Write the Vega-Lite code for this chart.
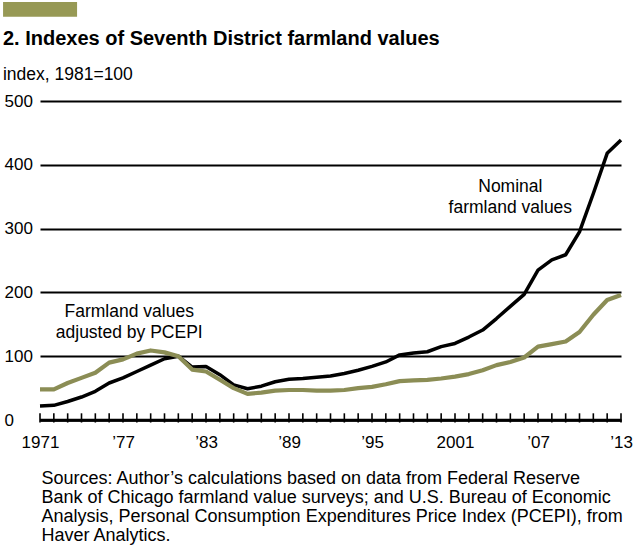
{
  "$schema": "https://vega.github.io/schema/vega-lite/v6.json",
  "width": 581,
  "height": 319,
  "autosize": {"type": "none"},
  "padding": {"left": 40, "top": 101, "right": 14, "bottom": 130},
  "background": "white",
  "config": {"view": {"stroke": null, "fill": null}, "axisX": {"labelOverlap": false}},
  "data": {
    "values": [
      {"year": 1971, "series": "nominal", "value": 22},
      {"year": 1972, "series": "nominal", "value": 23},
      {"year": 1973, "series": "nominal", "value": 29},
      {"year": 1974, "series": "nominal", "value": 36},
      {"year": 1975, "series": "nominal", "value": 45},
      {"year": 1976, "series": "nominal", "value": 58},
      {"year": 1977, "series": "nominal", "value": 66},
      {"year": 1978, "series": "nominal", "value": 76},
      {"year": 1979, "series": "nominal", "value": 86},
      {"year": 1980, "series": "nominal", "value": 96},
      {"year": 1981, "series": "nominal", "value": 100},
      {"year": 1982, "series": "nominal", "value": 83},
      {"year": 1983, "series": "nominal", "value": 84},
      {"year": 1984, "series": "nominal", "value": 71},
      {"year": 1985, "series": "nominal", "value": 55},
      {"year": 1986, "series": "nominal", "value": 49},
      {"year": 1987, "series": "nominal", "value": 53},
      {"year": 1988, "series": "nominal", "value": 60},
      {"year": 1989, "series": "nominal", "value": 64},
      {"year": 1990, "series": "nominal", "value": 65},
      {"year": 1991, "series": "nominal", "value": 67},
      {"year": 1992, "series": "nominal", "value": 69},
      {"year": 1993, "series": "nominal", "value": 73},
      {"year": 1994, "series": "nominal", "value": 78},
      {"year": 1995, "series": "nominal", "value": 84},
      {"year": 1996, "series": "nominal", "value": 91},
      {"year": 1997, "series": "nominal", "value": 102},
      {"year": 1998, "series": "nominal", "value": 105},
      {"year": 1999, "series": "nominal", "value": 107},
      {"year": 2000, "series": "nominal", "value": 115},
      {"year": 2001, "series": "nominal", "value": 120},
      {"year": 2002, "series": "nominal", "value": 130},
      {"year": 2003, "series": "nominal", "value": 141},
      {"year": 2004, "series": "nominal", "value": 159},
      {"year": 2005, "series": "nominal", "value": 178},
      {"year": 2006, "series": "nominal", "value": 197},
      {"year": 2007, "series": "nominal", "value": 235},
      {"year": 2008, "series": "nominal", "value": 251},
      {"year": 2009, "series": "nominal", "value": 259},
      {"year": 2010, "series": "nominal", "value": 295},
      {"year": 2011, "series": "nominal", "value": 355},
      {"year": 2012, "series": "nominal", "value": 418},
      {"year": 2013, "series": "nominal", "value": 439},
      {"year": 1971, "series": "adjusted", "value": 48},
      {"year": 1972, "series": "adjusted", "value": 48},
      {"year": 1973, "series": "adjusted", "value": 58},
      {"year": 1974, "series": "adjusted", "value": 66},
      {"year": 1975, "series": "adjusted", "value": 74},
      {"year": 1976, "series": "adjusted", "value": 90},
      {"year": 1977, "series": "adjusted", "value": 95},
      {"year": 1978, "series": "adjusted", "value": 104},
      {"year": 1979, "series": "adjusted", "value": 109},
      {"year": 1980, "series": "adjusted", "value": 106},
      {"year": 1981, "series": "adjusted", "value": 100},
      {"year": 1982, "series": "adjusted", "value": 79},
      {"year": 1983, "series": "adjusted", "value": 76},
      {"year": 1984, "series": "adjusted", "value": 63},
      {"year": 1985, "series": "adjusted", "value": 50},
      {"year": 1986, "series": "adjusted", "value": 41},
      {"year": 1987, "series": "adjusted", "value": 43},
      {"year": 1988, "series": "adjusted", "value": 46},
      {"year": 1989, "series": "adjusted", "value": 47},
      {"year": 1990, "series": "adjusted", "value": 47},
      {"year": 1991, "series": "adjusted", "value": 46},
      {"year": 1992, "series": "adjusted", "value": 46},
      {"year": 1993, "series": "adjusted", "value": 47},
      {"year": 1994, "series": "adjusted", "value": 50},
      {"year": 1995, "series": "adjusted", "value": 52},
      {"year": 1996, "series": "adjusted", "value": 56},
      {"year": 1997, "series": "adjusted", "value": 61},
      {"year": 1998, "series": "adjusted", "value": 62},
      {"year": 1999, "series": "adjusted", "value": 63},
      {"year": 2000, "series": "adjusted", "value": 65},
      {"year": 2001, "series": "adjusted", "value": 68},
      {"year": 2002, "series": "adjusted", "value": 72},
      {"year": 2003, "series": "adjusted", "value": 78},
      {"year": 2004, "series": "adjusted", "value": 86},
      {"year": 2005, "series": "adjusted", "value": 91},
      {"year": 2006, "series": "adjusted", "value": 98},
      {"year": 2007, "series": "adjusted", "value": 115},
      {"year": 2008, "series": "adjusted", "value": 119},
      {"year": 2009, "series": "adjusted", "value": 123},
      {"year": 2010, "series": "adjusted", "value": 138},
      {"year": 2011, "series": "adjusted", "value": 165},
      {"year": 2012, "series": "adjusted", "value": 188},
      {"year": 2013, "series": "adjusted", "value": 196}
    ]
  },
  "layer": [
    {
      "mark": {"type": "line", "strokeJoin": "round", "strokeCap": "butt", "clip": false},
      "encoding": {
        "x": {
          "field": "year",
          "type": "quantitative",
          "scale": {"domain": [1971, 2013], "nice": false, "zero": false},
          "axis": {
            "values": [1971,1972,1973,1974,1975,1976,1977,1978,1979,1980,1981,1982,1983,1984,1985,1986,1987,1988,1989,1990,1991,1992,1993,1994,1995,1996,1997,1998,1999,2000,2001,2002,2003,2004,2005,2006,2007,2008,2009,2010,2011,2012,2013],
            "tickCount": 100,
            "labelExpr": "datum.value == 1971 || datum.value == 2001 ? toString(datum.value) : (datum.value - 1971) % 6 == 0 ? '’' + substring(toString(datum.value), 2, 4) : ''",
            "grid": false,
            "domain": true,
            "domainColor": "black",
            "domainWidth": 2.5,
            "ticks": false,
            "tickSize": 0,
            "labelFont": "Liberation Sans",
            "labelFontSize": 17,
            "labelColor": "black",
            "labelPadding": 14,
            "labelFlush": false,
            "labelOverlap": false,
            "labelBound": false,
            "title": [
              "Sources: Author’s calculations based on data from Federal Reserve",
              "Bank of Chicago farmland value surveys; and U.S. Bureau of Economic",
              "Analysis, Personal Consumption Expenditures Price Index (PCEPI), from",
              "Haver Analytics."
            ],
            "titleFont": "Liberation Sans",
            "titleFontSize": 18,
            "titleFontWeight": "normal",
            "titleColor": "black",
            "titleAnchor": "start",
            "titleAlign": "left",
            "titleBaseline": "alphabetic",
            "titleLineHeight": 19.3,
            "titleX": 1,
            "titleY": 63
          }
        },
        "y": {
          "field": "value",
          "type": "quantitative",
          "scale": {"domain": [0, 500], "nice": false},
          "axis": {
            "values": [0, 100, 200, 300, 400, 500],
            "title": null,
            "domain": false,
            "ticks": false,
            "tickSize": 0,
            "grid": true,
            "gridColor": "black",
            "gridWidth": 2.2,
            "gridOpacity": 1,
            "labelAlign": "left",
            "labelBaseline": "middle",
            "labelPadding": 36,
            "labelFont": "Liberation Sans",
            "labelFontSize": 17,
            "labelColor": "black"
          }
        },
        "color": {
          "field": "series",
          "type": "nominal",
          "scale": {"domain": ["nominal", "adjusted"], "range": ["#000000", "#8b8d55"]},
          "legend": null
        },
        "strokeWidth": {
          "field": "series",
          "type": "nominal",
          "scale": {"domain": ["nominal", "adjusted"], "range": [3.5, 4.2]},
          "legend": null
        },
        "order": {"field": "year", "type": "quantitative"}
      }
    },
    {
      "data": {"values": [{}]},
      "mark": {"type": "rect", "color": "#979955", "clip": false},
      "encoding": {
        "x": {"datum": 1968.33},
        "x2": {"datum": 1973.68},
        "y": {"datum": 655},
        "y2": {"datum": 632}
      }
    },
    {
      "data": {"values": [{}]},
      "mark": {"type": "text", "font": "Liberation Sans", "fontWeight": "bold", "fontSize": 20, "fill": "black", "align": "left", "baseline": "alphabetic", "clip": false},
      "encoding": {
        "x": {"datum": 1968.32},
        "y": {"datum": 588},
        "text": {"value": "2. Indexes of Seventh District farmland values"}
      }
    },
    {
      "data": {"values": [{}]},
      "mark": {"type": "text", "font": "Liberation Sans", "fontSize": 17.5, "fill": "black", "align": "left", "baseline": "alphabetic", "clip": false},
      "encoding": {
        "x": {"datum": 1968.32},
        "y": {"datum": 533},
        "text": {"value": "index, 1981=100"}
      }
    },
    {
      "data": {"values": [{}]},
      "mark": {"type": "text", "font": "Liberation Sans", "fontSize": 17.5, "fill": "black", "align": "center", "baseline": "alphabetic", "lineHeight": 21},
      "encoding": {
        "x": {"datum": 2005.0},
        "y": {"datum": 357},
        "text": {"value": ["Nominal", "farmland values"]}
      }
    },
    {
      "data": {"values": [{}]},
      "mark": {"type": "text", "font": "Liberation Sans", "fontSize": 17.5, "fill": "black", "align": "center", "baseline": "alphabetic", "lineHeight": 21},
      "encoding": {
        "x": {"datum": 1977.45},
        "y": {"datum": 161},
        "text": {"value": ["Farmland values", "adjusted by PCEPI"]}
      }
    },
    {
      "data": {"values": [{}]},
      "mark": {"type": "rule", "color": "black", "strokeWidth": 2.5, "opacity": 1, "clip": false},
      "encoding": {
        "x": {"datum": 1971},
        "x2": {"datum": 2013},
        "y": {"datum": 0}
      }
    },
    {
      "transform": [{"filter": "datum.series == 'nominal'"}],
      "mark": {"type": "rule", "color": "black", "strokeWidth": 1.6, "opacity": 1, "clip": false},
      "encoding": {
        "x": {"field": "year", "type": "quantitative"},
        "y": {"datum": -4},
        "y2": {"datum": 10.5}
      }
    }
  ]
}
